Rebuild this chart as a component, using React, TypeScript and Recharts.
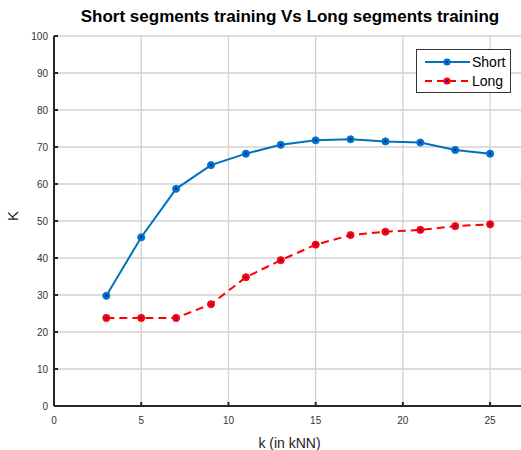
import { CartesianGrid, Label, Line, LineChart, XAxis, YAxis } from "recharts";

const kValues = [3, 5, 7, 9, 11, 13, 15, 17, 19, 21, 23, 25];
const shortValues = [29.8, 45.6, 58.7, 65.1, 68.2, 70.6, 71.8, 72.1, 71.5, 71.2, 69.2, 68.2];
const longValues = [23.8, 23.8, 23.8, 27.5, 34.8, 39.4, 43.6, 46.2, 47.1, 47.6, 48.6, 49.1];
const xTicks = [0, 5, 10, 15, 20, 25];
const yTicks = [0, 10, 20, 30, 40, 50, 60, 70, 80, 90, 100];

const BLUE = "#0072BD";
const RED = "#FF0000";
const AXIS = "#262626";
const FONT = "'Liberation Sans', Arial, sans-serif";

const data = kValues.map((k, i) => ({ k, short: shortValues[i], long: longValues[i] }));

function makeDot(fill: string) {
  return (props: { cx?: number; cy?: number; index?: number }) => {
    const { cx, cy, index } = props;
    if (cx == null || cy == null) return <g key={index} />;
    return (
      <g key={index}>
        <circle cx={cx} cy={cy} r={3.6} fill={fill} stroke={fill} strokeWidth={0.8} />
        <circle cx={cx} cy={cy} r={1.1} fill="#0000FF" />
      </g>
    );
  };
}

function LegendBox() {
  const rows = [
    { name: "Short", color: BLUE, dash: undefined as string | undefined },
    { name: "Long", color: RED, dash: "7 5" },
  ];
  return (
    <div
      style={{
        position: "absolute",
        left: 416,
        top: 49,
        boxSizing: "border-box",
        border: "1px solid #333",
        background: "#fff",
        width: 95,
        height: 44,
        padding: "2px 0",
        fontFamily: FONT,
        fontSize: 14,
        color: "#000",
        zIndex: 2,
      }}
    >
      {rows.map((r) => (
        <div key={r.name} style={{ display: "flex", alignItems: "center", height: 19 }}>
          <svg width={46} height={12} style={{ marginLeft: 8 }}>
            <line x1={0} y1={6} x2={45} y2={6} stroke={r.color} strokeWidth={2} strokeDasharray={r.dash} />
            <circle cx={22} cy={6} r={3.6} fill={r.color} />
            <circle cx={22} cy={6} r={1.1} fill="#0000FF" />
          </svg>
          <span style={{ marginLeft: 1 }}>{r.name}</span>
        </div>
      ))}
    </div>
  );
}

export default function App() {
  return (
    <div
      style={{
        position: "absolute",
        left: 0,
        top: 0,
        width: 521,
        height: 450,
        overflow: "hidden",
        background: "#fff",
      }}
    >
      <div
        style={{
          position: "absolute",
          left: 0,
          width: 580,
          top: 7,
          textAlign: "center",
          fontFamily: FONT,
          fontWeight: "bold",
          fontSize: 17,
          color: "#000",
          zIndex: 2,
        }}
      >
        Short segments training Vs Long segments training
      </div>
      <LegendBox />
      <LineChart
        width={535}
        height={450}
        data={data}
        margin={{ top: 36, right: 10, bottom: 0, left: 0 }}
      >
        <CartesianGrid stroke="#d2d2d2" strokeWidth={1.3} />
        <XAxis
          dataKey="k"
          type="number"
          domain={[0, 27]}
          ticks={xTicks}
          height={44}
          stroke={AXIS}
          strokeWidth={2}
          tickSize={-4}
          tickMargin={15}
          tick={{ fill: "#333", fontSize: 10, fontFamily: FONT }}
        >
          <Label value="k (in kNN)" position="insideBottom" offset={2} style={{ fill: "#222", fontSize: 14, fontFamily: FONT }} />
        </XAxis>
        <YAxis
          type="number"
          domain={[0, 100]}
          ticks={yTicks}
          width={54}
          stroke={AXIS}
          strokeWidth={2}
          tickSize={-4}
          tickMargin={10}
          tick={{ fill: "#333", fontSize: 10, fontFamily: FONT }}
        >
          <Label value="K" angle={-90} position="insideLeft" offset={13} style={{ fill: "#222", fontSize: 15, fontFamily: FONT }} />
        </YAxis>
        <Line
          dataKey="short"
          name="Short"
          stroke={BLUE}
          strokeWidth={2}
          dot={makeDot(BLUE)}
          isAnimationActive={false}
        />
        <Line
          dataKey="long"
          name="Long"
          stroke={RED}
          strokeWidth={2}
          strokeDasharray="8 5"
          dot={makeDot(RED)}
          isAnimationActive={false}
        />
      </LineChart>
    </div>
  );
}
